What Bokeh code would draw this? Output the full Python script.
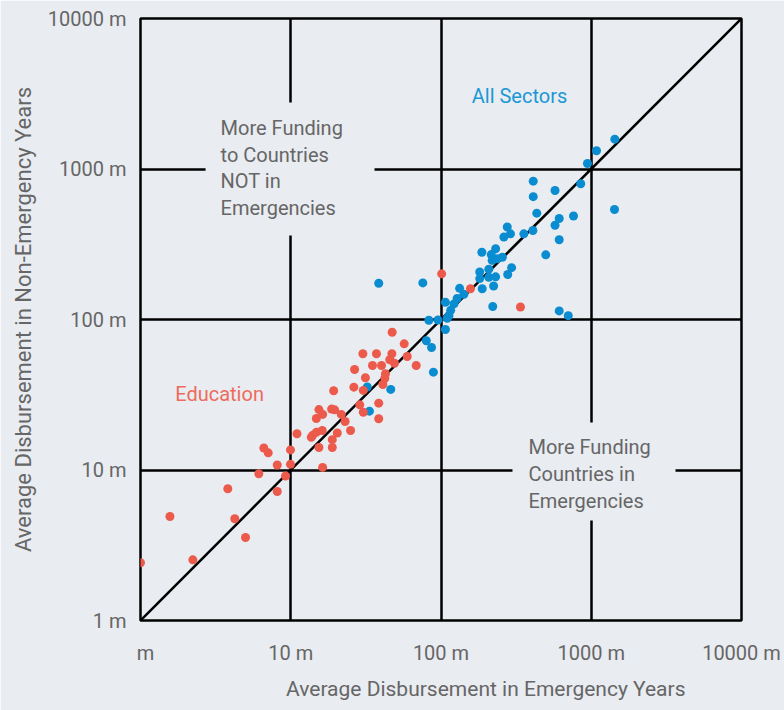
from bokeh.plotting import figure
from bokeh.models import FixedTicker, Label, BoxAnnotation, Title
from bokeh.embed import file_html
from bokeh.resources import INLINE

# ---- data (millions) ----
edu_x = [1.0, 1.57, 2.23, 3.81, 4.24, 5.0, 6.13, 6.62, 7.08, 8.13, 8.13, 9.23, 9.96, 9.96,
         11.0, 13.7, 14.0, 14.8, 14.8, 15.4, 15.4, 16.2, 16.3, 16.3, 18.7, 19.6, 18.9, 18.9,
         19.3, 20.4, 21.7, 23.0, 25.0, 26.3, 26.6, 28.8, 30.2, 30.4, 30.4, 31.4, 35.0, 37.2,
         38.5, 38.5, 40.2, 41.0, 42.3, 42.7, 45.6, 47.1, 47.3, 49.0, 56.9, 59.6, 68.4, 101,
         157, 338]
edu_y = [2.42, 4.91, 2.53, 7.5, 4.74, 3.56, 9.44, 14.0, 13.0, 10.8, 7.2, 9.12, 13.6, 10.9,
         17.4, 16.5, 17.0, 17.8, 22.0, 25.2, 14.1, 18.3, 23.4, 10.4, 25.4, 25.1, 15.9, 14.1,
         33.6, 17.6, 23.4, 21.0, 18.3, 35.5, 46.5, 27.1, 59.2, 33.8, 24.2, 41.0, 49.5, 59.2,
         27.8, 21.9, 49.5, 37.0, 40.7, 43.6, 54.0, 59.2, 82.3, 51.2, 68.9, 56.8, 49.5, 201,
         160, 121]

all_x = [1435, 1084, 944, 851, 411, 574, 411, 1428, 434, 762, 612, 574, 276, 290, 409, 356,
         262, 612, 187, 231, 216, 256, 237, 219, 498, 295, 278, 208, 181, 181, 208, 231, 224,
         188, 75.7, 38.5, 133, 142, 128, 107, 122, 116, 113, 221, 612, 703, 83.0, 95.5, 107,
         79.8, 86.5, 89.0, 32.3, 46.3, 33.4, 110]
all_y = [1578, 1321, 1088, 798, 830, 720, 655, 538, 509, 487, 469, 423, 412, 371, 390, 371,
         353, 339, 280, 295, 270, 259, 253, 247, 269, 221, 199, 216, 207, 187, 191, 192, 167,
         160, 175, 174, 161, 147, 138, 130, 127, 115, 106, 122, 114, 106, 98.9, 99.2, 85.8,
         72.2, 65.2, 44.7, 35.6, 34.3, 24.6, 102]

ticks = [1, 10, 100, 1000, 10000]
x_tick_labels = ["\u2002m", "10 m", "100 m", "1000 m", "10000 m"]
y_tick_labels = ["1 m", "10 m", "100 m", "1000 m", "10000 m"]
diag = [1, 10000]

x_title = "Average Disbursement in Emergency Years"
y_title = "Average Disbursement in Non-Emergency Years"

BG = "#e9ecf1"
BLUE = "#0a8cd0"
RED = "#ec5a4b"
TXT = "#666666"
FONT = "Roboto"

p = figure(width=784, height=710, x_axis_type="log", y_axis_type="log",
           x_range=(1, 10000), y_range=(1, 10000),
           output_backend="svg", toolbar_location=None,
           min_border_left=140, min_border_right=43, min_border_top=18, min_border_bottom=90,
           background_fill_color=BG, border_fill_color=BG)

p.outline_line_color = "black"
p.outline_line_width = 2.5

for ax, labels in ((p.xaxis[0], x_tick_labels), (p.yaxis[0], y_tick_labels)):
    ax.ticker = FixedTicker(ticks=ticks, minor_ticks=[])
    ax.major_label_overrides = {t: l for t, l in zip(ticks, labels)}
    ax.axis_line_color = None
    ax.major_tick_line_color = None
    ax.minor_tick_line_color = None
    ax.major_tick_out = 0
    ax.major_tick_in = 0
    ax.minor_tick_out = 0
    ax.major_label_text_font = FONT
    ax.major_label_text_font_size = "20px"
    ax.major_label_text_color = TXT

p.xaxis.major_label_standoff = 20
p.yaxis.major_label_standoff = 14

for g in (p.xgrid[0], p.ygrid[0]):
    g.grid_line_color = "black"
    g.grid_line_width = 2.5

# diagonal
p.line(diag, diag, line_color="black", line_width=2.5)

# points
p.scatter(all_x, all_y, size=9, fill_color=BLUE, line_color=None)
p.scatter(edu_x, edu_y, size=9, fill_color=RED, line_color=None)

# boxes behind annotation texts
p.add_layout(BoxAnnotation(left=2.71, right=36.1, bottom=361, top=2767,
                           fill_color=BG, fill_alpha=1, line_color=None))
p.add_layout(BoxAnnotation(left=299, right=3638, bottom=4.62, top=20.7,
                           fill_color=BG, fill_alpha=1, line_color=None))

def add_lines(x, y_list, lines, color):
    for y, t in zip(y_list, lines):
        p.add_layout(Label(x=x, y=y, text=t, text_font=FONT, text_font_size="20px",
                           text_color=color, text_align="left", text_baseline="middle"))

add_lines(3.41, [1880, 1245, 836, 554],
          ["More Funding", "to Countries", "NOT in", "Emergencies"], TXT)
add_lines(382, [14.3, 9.47, 6.27],
          ["More Funding", "Countries in", "Emergencies"], TXT)

p.add_layout(Label(x=333, y=3077, text="All Sectors", text_font=FONT, text_font_size="20px",
                   text_color="#1b98d5", text_align="center", text_baseline="middle"))
p.add_layout(Label(x=3.36, y=32.2, text="Education", text_font=FONT, text_font_size="20px",
                   text_color="#ee6b5c", text_align="center", text_baseline="middle"))

# axis titles
p.add_layout(Title(text=x_title, align="right", text_font=FONT, text_font_size="21px",
                   text_font_style="normal", text_color=TXT, standoff=14, offset=56), "below")
p.add_layout(Title(text=y_title, align="center", text_font=FONT, text_font_size="22px",
                   text_font_style="normal", text_color=TXT, standoff=17), "left")

open("out.html", "w").write(file_html(p, INLINE))
